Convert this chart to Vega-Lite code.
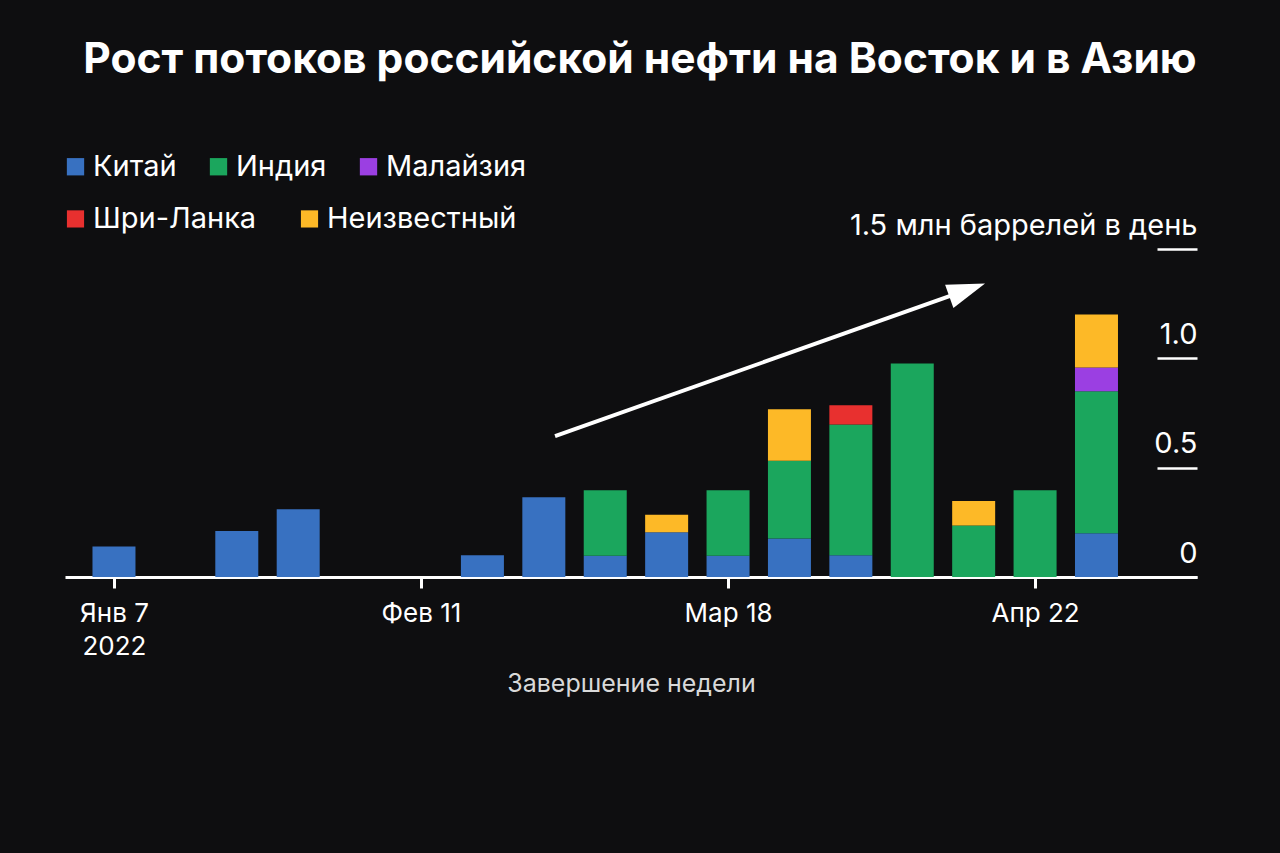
{
  "$schema": "https://vega.github.io/schema/vega-lite/v6.json",
  "width": 1132,
  "height": 328,
  "autosize": {"type": "none"},
  "padding": {"left": 65, "top": 249, "right": 83, "bottom": 276},
  "background": "#0e0e10",
  "title": {
    "text": "Рост потоков российской нефти на Восток и в Азию",
    "font": "Inter",
    "fontSize": 42.5,
    "fontWeight": "bold",
    "color": "#ffffff",
    "anchor": "middle",
    "frame": "group",
    "dx": 9,
    "offset": 71
  },
  "config": {
    "view": {"stroke": null},
    "font": "Inter"
  },
  "datasets": {
    "flows": [
      {"week": "2022-01-07", "country": "Китай", "v": 0.14},
      {"week": "2022-01-21", "country": "Китай", "v": 0.21},
      {"week": "2022-01-28", "country": "Китай", "v": 0.31},
      {"week": "2022-02-18", "country": "Китай", "v": 0.10},
      {"week": "2022-02-25", "country": "Китай", "v": 0.365},
      {"week": "2022-03-04", "country": "Китай", "v": 0.097},
      {"week": "2022-03-04", "country": "Индия", "v": 0.30},
      {"week": "2022-03-11", "country": "Китай", "v": 0.205},
      {"week": "2022-03-11", "country": "Неизвестный", "v": 0.08},
      {"week": "2022-03-18", "country": "Китай", "v": 0.097},
      {"week": "2022-03-18", "country": "Индия", "v": 0.30},
      {"week": "2022-03-25", "country": "Китай", "v": 0.176},
      {"week": "2022-03-25", "country": "Индия", "v": 0.356},
      {"week": "2022-03-25", "country": "Неизвестный", "v": 0.235},
      {"week": "2022-04-01", "country": "Китай", "v": 0.10},
      {"week": "2022-04-01", "country": "Индия", "v": 0.597},
      {"week": "2022-04-01", "country": "Шри-Ланка", "v": 0.088},
      {"week": "2022-04-08", "country": "Индия", "v": 0.976},
      {"week": "2022-04-15", "country": "Индия", "v": 0.236},
      {"week": "2022-04-15", "country": "Неизвестный", "v": 0.111},
      {"week": "2022-04-22", "country": "Индия", "v": 0.397},
      {"week": "2022-04-29", "country": "Китай", "v": 0.20},
      {"week": "2022-04-29", "country": "Индия", "v": 0.649},
      {"week": "2022-04-29", "country": "Малайзия", "v": 0.109},
      {"week": "2022-04-29", "country": "Неизвестный", "v": 0.243}
    ],
    "arrow": [
      {"start": "2022-02-26T06:40:00Z", "end": "2022-04-14T06:10:00Z", "y0": 0.644, "y1": 1.313}
    ]
  },
  "layer": [
    {
      "data": {"name": "flows"},
      "transform": [
        {"calculate": "indexof(['Китай','Индия','Малайзия','Шри-Ланка','Неизвестный'], datum.country)", "as": "stackOrder"}
      ],
      "mark": {"type": "bar", "width": 43, "strokeOpacity": 0},
      "encoding": {
        "x": {
          "field": "week",
          "type": "temporal",
          "scale": {
            "type": "utc",
            "padding": 0,
            "nice": false,
            "domain": [
              {"year": 2022, "month": 1, "date": 1, "hours": 10, "utc": true},
              {"year": 2022, "month": 5, "date": 10, "hours": 11, "utc": true}
            ]
          },
          "axis": {
            "values": [
              {"year": 2022, "month": 1, "date": 7, "utc": true},
              {"year": 2022, "month": 2, "date": 11, "utc": true},
              {"year": 2022, "month": 3, "date": 18, "utc": true},
              {"year": 2022, "month": 4, "date": 22, "utc": true}
            ],
            "labelExpr": "utcmonth(datum.value) == 0 ? ['Янв 7', '2022'] : ['Янв','Фев','Мар','Апр','Май'][utcmonth(datum.value)] + ' ' + utcdate(datum.value)",
            "grid": false,
            "domainColor": "#ffffff",
            "domainWidth": 3,
            "tickColor": "#ffffff",
            "tickWidth": 3,
            "tickSize": 11,
            "labelColor": "#ffffff",
            "labelFont": "Inter",
            "labelFontSize": 26,
            "labelPadding": 12,
            "labelLineHeight": 33,
            "labelOverlap": false,
            "title": "Завершение недели",
            "titleColor": "#d9d9d9",
            "titleFont": "Inter",
            "titleFontSize": 25,
            "titleFontWeight": "normal",
            "titlePadding": 12
          }
        },
        "y": {
          "field": "v",
          "type": "quantitative",
          "stack": "zero",
          "scale": {"domain": [0, 1.5], "nice": false},
          "axis": {
            "orient": "right",
            "values": [0, 0.5, 1, 1.5],
            "domain": false,
            "grid": false,
            "ticks": true,
            "tickSize": -40,
            "tickColor": "#ffffff",
            "tickWidth": 2.5,
            "labelAlign": "right",
            "labelBaseline": "alphabetic",
            "labelOffset": -15,
            "labelPadding": 40,
            "labelFont": "Inter",
            "labelFontSize": 29,
            "labelColor": "#ffffff",
            "labelLimit": 0,
            "labelExpr": "datum.value == 0 ? '0' : datum.value == 1.5 ? '1.5 млн баррелей в день' : format(datum.value, '.1f')",
            "title": null
          }
        },
        "fill": {
          "field": "country",
          "type": "nominal",
          "scale": {
            "domain": ["Китай", "Индия", "Малайзия", "Шри-Ланка", "Неизвестный"],
            "range": ["#3871c1", "#1ba65d", "#9b3fe2", "#e8302f", "#fdb927"]
          },
          "legend": {
            "title": null,
            "values": ["Китай", "Индия", "Малайзия"],
            "orient": "none",
            "legendX": -4,
            "legendY": -97,
            "direction": "horizontal",
            "symbolType": "square",
            "symbolSize": 300,
            "symbolStrokeWidth": 0,
            "labelFont": "Inter",
            "labelFontSize": 29,
            "labelColor": "#ffffff",
            "labelOffset": 3,
            "labelLimit": 0,
            "columnPadding": 27
          }
        },
        "stroke": {
          "field": "country",
          "type": "nominal",
          "scale": {
            "domain": ["Шри-Ланка", "Неизвестный", "Китай", "Индия", "Малайзия"],
            "range": ["#e8302f", "#fdb927", "#3871c1", "#1ba65d", "#9b3fe2"]
          },
          "legend": {
            "title": null,
            "values": ["Шри-Ланка", "Неизвестный"],
            "orient": "none",
            "legendX": -4,
            "legendY": -45,
            "direction": "horizontal",
            "symbolType": "square",
            "symbolSize": 72,
            "symbolStrokeWidth": 8.7,
            "labelFont": "Inter",
            "labelFontSize": 29,
            "labelColor": "#ffffff",
            "labelOffset": 3,
            "labelLimit": 0,
            "columnPadding": 30
          }
        },
        "order": {"field": "stackOrder", "type": "quantitative"}
      }
    },
    {
      "data": {"name": "arrow"},
      "mark": {"type": "rule", "color": "#ffffff", "strokeWidth": 4},
      "encoding": {
        "x": {"field": "start", "type": "temporal"},
        "x2": {"field": "end"},
        "y": {"field": "y0", "type": "quantitative"},
        "y2": {"field": "y1"}
      }
    },
    {
      "data": {"name": "arrow"},
      "mark": {"type": "point", "filled": true, "color": "#ffffff", "opacity": 1, "shape": "M1,0L-1,-0.65L-1,0.65Z", "size": 1444, "angle": 340.4},
      "encoding": {
        "x": {"field": "end", "type": "temporal"},
        "y": {"field": "y1", "type": "quantitative"}
      }
    }
  ]
}
